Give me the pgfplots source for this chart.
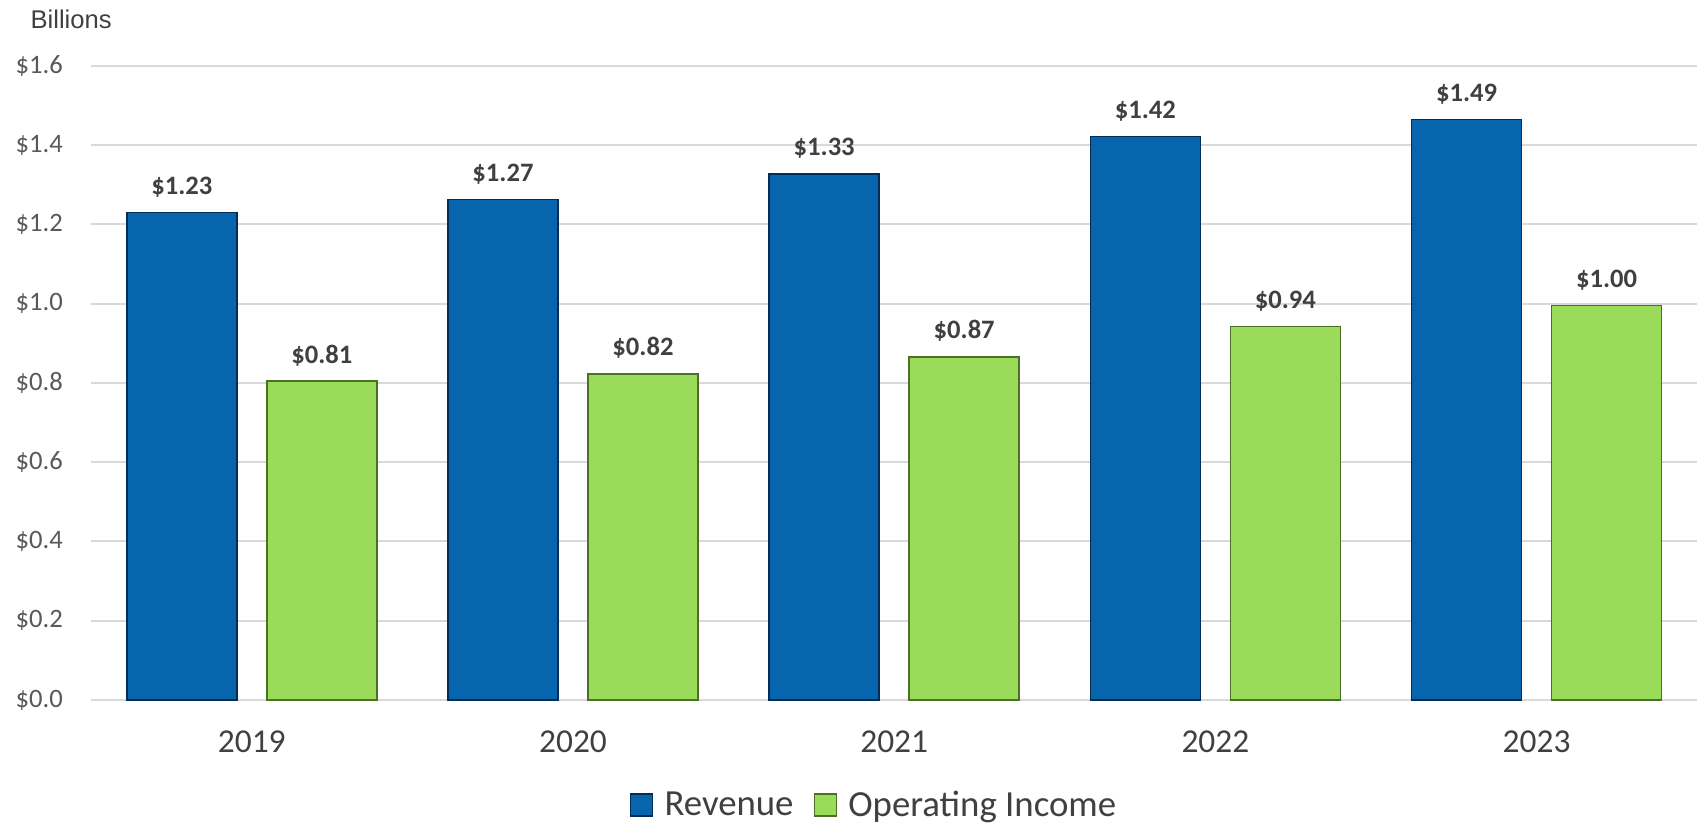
\documentclass[border=0pt]{standalone}
\usepackage{pgfplots}
\pgfplotsset{compat=1.18}
\usepackage{pgfplotstable}
\usepackage{fontspec}
\setmainfont{Carlito}
\newfontfamily\arialfont{Liberation Sans}

\definecolor{revblue}{RGB}{6,101,172}
\definecolor{revedge}{RGB}{3,45,85}
\definecolor{opgreen}{RGB}{155,219,90}
\definecolor{opedge}{RGB}{75,110,40}
\definecolor{gridgray}{RGB}{217,217,217}
\definecolor{ticktext}{RGB}{89,89,89}
\definecolor{labeltext}{RGB}{64,64,64}

% year index, bar height, printed label
\pgfplotstableread{
x  y      lab
0  1.230  1.23
1  1.263  1.27
2  1.328  1.33
3  1.422  1.42
4  1.465  1.49
}\revenue
\pgfplotstableread{
x  y      lab
0  0.805  0.81
1  0.823  0.82
2  0.866  0.87
3  0.943  0.94
4  0.996  1.00
}\opincome

\begin{document}
\begin{tikzpicture}
\path[use as bounding box] (-45.6pt,-62pt) rectangle (803.4pt,350pt);
\begin{axis}[
  at={(0,0)}, anchor=south west,
  scale only axis,
  width=803pt, height=317pt,
  ybar,
  bar width=55pt,
  xmin=-0.5, xmax=4.5,
  ymin=0, ymax=1.6,
  xtick={0,1,2,3,4},
  xticklabels={2019,2020,2021,2022,2023},
  ytick={0,0.2,...,1.6},
  axis line style={draw=none},
  major tick length=0pt,
  ymajorgrids,
  grid style={gridgray, line width=1pt},
  /pgf/number format/assume math mode=true,
  yticklabel={\$\pgfmathprintnumber[fixed,fixed zerofill,precision=1]{\tick}},
  yticklabel style={font=\fontsize{13.3pt}{15pt}\selectfont, text=ticktext, anchor=east, inner sep=0pt, xshift=-14pt},
  xticklabel style={font=\fontsize{16.7pt}{19pt}\selectfont, text=labeltext, anchor=north, inner sep=0pt, yshift=-15pt},
  point meta=explicit symbolic,
  nodes near coords={\$\pgfplotspointmeta},
  every node near coord/.append style={font=\bfseries\fontsize{13.3pt}{15pt}\selectfont, text=labeltext, anchor=base, inner sep=0pt, yshift=9pt},
  legend columns=2,
  legend style={at={(0.488,-0.166)}, anchor=center, draw=none, fill=none,
    font=\fontsize{18.4pt}{20pt}\selectfont, text=labeltext,
    /tikz/every even column/.append style={column sep=8pt}},
  legend cell align=left,
  legend image code/.code={%
    \path[draw=none, fill=none] (0pt,0pt) -- (15pt,0pt);
    \draw[#1, line width=0.8pt] (0pt,-5.5pt) rectangle (11pt,5.5pt);},
  clip=false,
]
\addplot[fill=revblue, draw=revedge, line width=0.8pt, bar shift=-35pt]
  table[x=x, y=y, meta=lab] {\revenue};
\addlegendentry{Revenue}
\addplot[fill=opgreen, draw=opedge, line width=0.8pt, bar shift=35pt]
  table[x=x, y=y, meta=lab] {\opincome};
\addlegendentry{Operating Income}
\end{axis}
\node[anchor=base west, inner sep=0pt, font=\arialfont\fontsize{12.8pt}{15pt}\selectfont, text=labeltext]
  at (-30.5pt,335.9pt) {Billions};
\end{tikzpicture}
\end{document}
